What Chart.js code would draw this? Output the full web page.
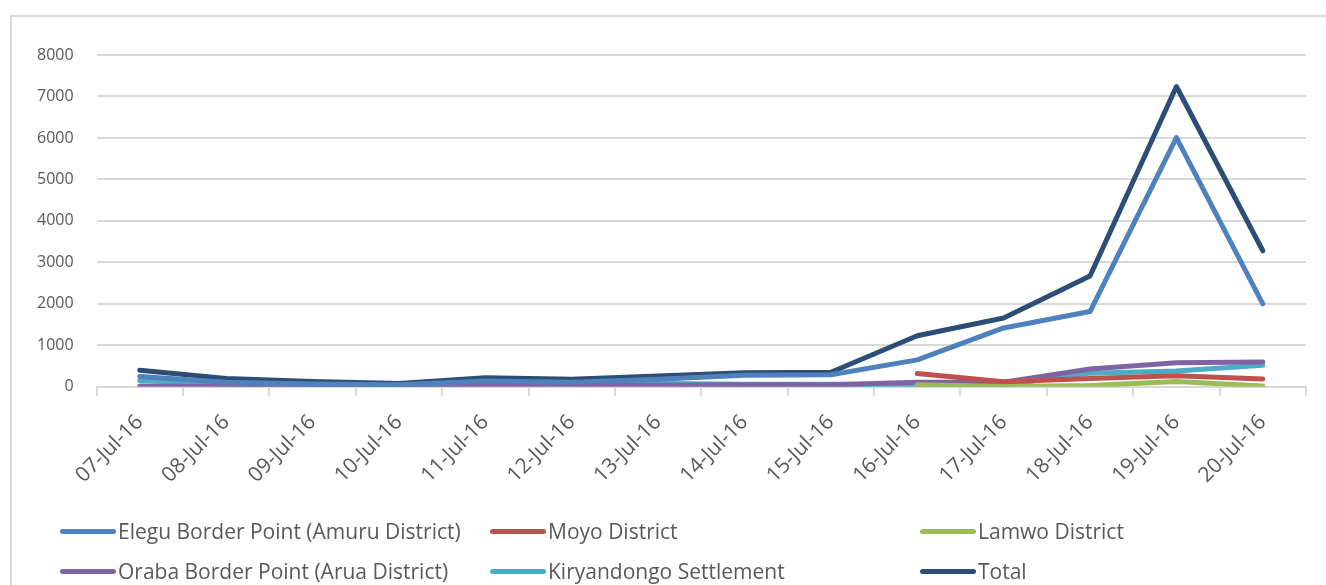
<!DOCTYPE html>
<html>
<head>
<meta charset="utf-8">
<script src="https://cdn.jsdelivr.net/npm/chart.js@4.4.1/dist/chart.umd.min.js"></script>
<style>
  html, body { margin: 0; padding: 0; background: #fff; overflow: hidden; }
  #wrap { position: relative; width: 1326px; height: 585px; }
  #frame { position: absolute; left: 10px; top: 15px; width: 1400px; height: 700px;
           border-left: 2px solid #d9d9d9; border-top: 2px solid #d9d9d9; }
  canvas { position: absolute; left: 0; top: 0; }
  #legend { position: absolute; left: 0; top: 0; font-family: "Open Sans", sans-serif;
            font-size: 21px; color: #595959; }
  .item { position: absolute; display: flex; align-items: center; white-space: nowrap; }
  .sw { width: 56px; height: 5px; border-radius: 3px; margin-right: 2px; }
</style>
</head>
<body>
<div id="wrap">
  <div id="frame"></div>
  <canvas id="chart" width="1326" height="585"></canvas>
  <div id="legend"></div>
</div>
<script>
const dates = ['07-Jul-16','08-Jul-16','09-Jul-16','10-Jul-16','11-Jul-16','12-Jul-16','13-Jul-16',
               '14-Jul-16','15-Jul-16','16-Jul-16','17-Jul-16','18-Jul-16','19-Jul-16','20-Jul-16']

const elegu       = [250, 110, 70, 50, 140, 110, 180, 280, 290, 650, 1420, 1815, 6010, 2000]
const moyo        = [null, null, null, null, null, null, null, null, null, 320, 120, 200, 265, 190]
const lamwo       = [null, null, null, null, null, null, null, null, null, 50, 10, 30, 130, 20]
const oraba       = [20, 10, 10, 10, 30, 30, 40, 50, 50, 110, 110, 430, 580, 600]
const kiryandongo = [150, 70, 40, 20, 100, 80, 80, 60, 60, 50, 40, 330, 380, 520]
const total       = [400, 200, 130, 80, 220, 180, 260, 340, 350, 1230, 1660, 2670, 7240, 3280]

const yTicks = [0, 1000, 2000, 3000, 4000, 5000, 6000, 7000, 8000]

function line(label, data, color){
    return {
        label: label,
        data: data,
        borderColor: color,
        backgroundColor: color,
        borderWidth: 5,
        pointRadius: 0,
        tension: 0,
        borderJoinStyle: 'round',
        borderCapStyle: 'round',
        fill: false
    }
}

const datasets = [
    line('Elegu Border Point (Amuru District)', elegu, '#4f81bd'),
    line('Moyo District', moyo, '#c0504d'),
    line('Lamwo District', lamwo, '#9bbb59'),
    line('Oraba Border Point (Arua District)', oraba, '#8064a2'),
    line('Kiryandongo Settlement', kiryandongo, '#4bacc6'),
    line('Total', total, '#2c4d75')
]

const fontFamily = '"Open Sans", sans-serif'

new Chart(document.getElementById('chart').getContext('2d'), {
    type: 'line',
    data: { labels: dates, datasets: datasets },
    options: {
        responsive: false,
        animation: false,
        layout: { padding: { left: 14, right: 20, top: 55, bottom: 83 } },
        plugins: { legend: { display: false }, tooltip: { enabled: false } },
        scales: {
            x: {
                offset: true,
                grid: { offset: true, drawOnChartArea: false, color: '#d9d9d9', lineWidth: 2, tickLength: 9 },
                border: { color: '#d9d9d9', width: 2 },
                ticks: { color: '#595959', font: { family: fontFamily, size: 21 },
                         maxRotation: 45, minRotation: 45, autoSkip: false, padding: 14 },
                afterFit: (scale) => { scale.paddingLeft = 0; scale.paddingRight = 0 }
            },
            y: {
                min: 0, max: 8000,
                afterBuildTicks: (axis) => { axis.ticks = yTicks.map(v => ({ value: v })) },
                grid: { color: '#d9d9d9', lineWidth: 2, drawTicks: false },
                border: { display: false },
                ticks: { color: '#595959', font: { family: fontFamily, size: 16 }, padding: 23,
                         callback: (v) => String(v) }
            }
        }
    }
})

// legend in three fixed columns, like the original
const cols = [60, 490, 920]
const rows = [531, 571]
let html = ''
for (let i = 0; i < datasets.length; i++){
    const x = cols[i % 3]
    const y = rows[Math.floor(i / 3)]
    html += `<div class="item" style="left:${x}px;top:${y - 15}px;height:30px">
                <span class="sw" style="background:${datasets[i].borderColor}"></span>${datasets[i].label}</div>`
}
document.getElementById('legend').innerHTML = html
</script>
</body>
</html>
